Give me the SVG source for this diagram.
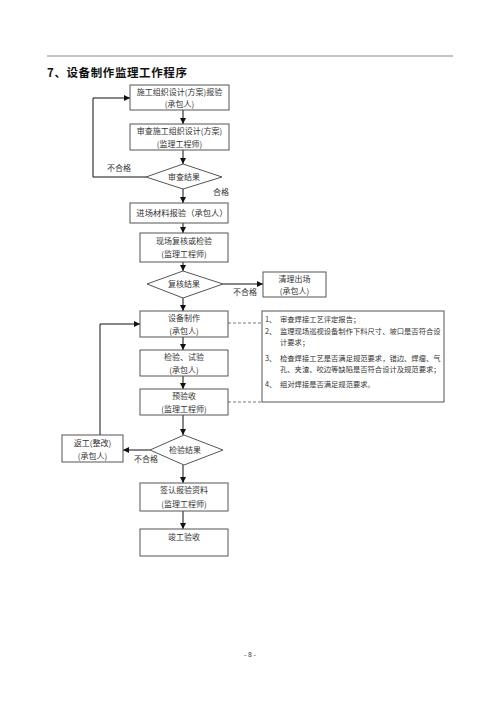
<svg xmlns="http://www.w3.org/2000/svg" width="500" height="707" viewBox="0 0 500 707">
<defs>
<marker id="ah" viewBox="0 0 10 10" refX="10" refY="5" markerWidth="6" markerHeight="6" orient="auto" markerUnits="userSpaceOnUse">
<path d="M0,0 L10,5 L0,10 z" fill="#111"/>
</marker>
</defs>
<style>
text{font-family:"Noto Sans CJK SC","Noto Sans CJK JP",serif;fill:#333;}
.t{font-size:8px;text-anchor:middle;}
.n{font-size:7.3px;}
.lbl{font-size:8px;}
.box{fill:#fff;stroke:#555;stroke-width:1;}
.dia{fill:#fff;stroke:#555;stroke-width:1;}
.ln{fill:none;stroke:#111;stroke-width:1;}
.dash{fill:none;stroke:#555;stroke-width:0.8;stroke-dasharray:3,2;}
</style>
<rect width="500" height="707" fill="#fff"/>
<line x1="47" y1="56" x2="453" y2="56" stroke="#888" stroke-width="1"/>
<text x="47" y="77" style="font-size:11.5px;font-weight:bold;fill:#111;letter-spacing:0.6px">7、设备制作监理工作程序</text>

<g id="connectors">
<line class="ln" x1="183" y1="110" x2="183" y2="124" marker-end="url(#ah)"/>
<line class="ln" x1="183" y1="150" x2="183" y2="164" marker-end="url(#ah)"/>
<polyline class="ln" points="146,177 93,177 93,98 130,98" marker-end="url(#ah)"/>
<line class="ln" x1="183" y1="189" x2="183" y2="203" marker-end="url(#ah)"/>
<line class="ln" x1="183" y1="223" x2="183" y2="233" marker-end="url(#ah)"/>
<line class="ln" x1="183" y1="262" x2="183" y2="271" marker-end="url(#ah)"/>
<line class="ln" x1="223" y1="284" x2="263" y2="284" marker-end="url(#ah)"/>
<line class="ln" x1="183" y1="298" x2="183" y2="311" marker-end="url(#ah)"/>
<line class="ln" x1="183" y1="337" x2="183" y2="350" marker-end="url(#ah)"/>
<line class="ln" x1="183" y1="376" x2="183" y2="389" marker-end="url(#ah)"/>
<line class="ln" x1="183" y1="415" x2="183" y2="435" marker-end="url(#ah)"/>
<line class="ln" x1="150" y1="450" x2="123" y2="450" marker-end="url(#ah)"/>
<polyline class="ln" points="100,435 100,324 140,324" marker-end="url(#ah)"/>
<line class="ln" x1="183" y1="465" x2="183" y2="483" marker-end="url(#ah)"/>
<line class="ln" x1="183" y1="511" x2="183" y2="529" marker-end="url(#ah)"/>
<line class="dash" x1="228" y1="323" x2="262" y2="323"/>
<line class="dash" x1="228" y1="402" x2="262" y2="402"/>
<text class="lbl" x="107" y="171">不合格</text>
<text class="lbl" x="213" y="195">合格</text>
<text class="lbl" x="233" y="295">不合格</text>
<text class="lbl" x="134" y="462">不合格</text>
</g>

<g id="n1"><rect class="box" x="130" y="85" width="99" height="25"/>
<text class="t" x="179.5" y="95">施工组织设计(方案)报验</text><text class="t" x="179.5" y="107">(承包人)</text></g>
<g id="n2"><rect class="box" x="130" y="124" width="99" height="26"/>
<text class="t" x="179.5" y="134">审查施工组织设计(方案)</text><text class="t" x="179.5" y="147">(监理工程师)</text></g>
<g id="d1"><polygon class="dia" points="146,177 183,164 222,177 183,189"/>
<text class="t" x="184" y="180">审查结果</text></g>
<g id="n3"><rect class="box" x="130" y="203" width="98" height="20"/>
<text class="t" x="182" y="216" style="font-size:8.3px">进场材料报验（承包人）</text></g>
<g id="n4"><rect class="box" x="140" y="233" width="88" height="29"/>
<text class="t" x="184" y="244">现场复核或检验</text><text class="t" x="184" y="257">(监理工程师)</text></g>
<g id="d2"><polygon class="dia" points="147,284 183,271 223,284 183,298"/>
<text class="t" x="184" y="287">复核结果</text></g>
<g id="n5"><rect class="box" x="263" y="272" width="63" height="25"/>
<text class="t" x="294.5" y="282">清理出场</text><text class="t" x="294.5" y="294">(承包人)</text></g>
<g id="n6"><rect class="box" x="140" y="311" width="88" height="26"/>
<text class="t" x="184" y="321">设备制作</text><text class="t" x="184" y="334">(承包人)</text></g>
<g id="n7"><rect class="box" x="140" y="350" width="88" height="26"/>
<text class="t" x="184" y="360">检验、试验</text><text class="t" x="184" y="373">(承包人)</text></g>
<g id="n8"><rect class="box" x="140" y="389" width="88" height="26"/>
<text class="t" x="184" y="399">预验收</text><text class="t" x="184" y="412">(监理工程师)</text></g>
<g id="note"><rect class="box" x="262" y="311" width="182" height="91"/>
<text class="n" x="265" y="322">1、</text><text class="n" x="280" y="322">审查焊接工艺评定报告；</text>
<text class="n" x="265" y="334">2、</text><text class="n" x="280" y="334">监理现场巡视设备制作下料尺寸、坡口是否符合设</text>
<text class="n" x="280" y="345">计要求；</text>
<text class="n" x="265" y="361">3、</text><text class="n" x="280" y="361">检查焊接工艺是否满足规范要求，错边、焊瘤、气</text>
<text class="n" x="280" y="372">孔、夹渣、咬边等缺陷是否符合设计及规范要求；</text>
<text class="n" x="265" y="387">4、</text><text class="n" x="280" y="387">组对焊接是否满足规范要求。</text></g>
<g id="d3"><polygon class="dia" points="150,450 184,435 223,450 184,465"/>
<text class="t" x="185" y="453">检验结果</text></g>
<g id="n9"><rect class="box" x="62" y="435" width="61" height="27"/>
<text class="t" x="92.5" y="446">返工(整改)</text><text class="t" x="92.5" y="459">(承包人)</text></g>
<g id="n10"><rect class="box" x="140" y="483" width="88" height="28"/>
<text class="t" x="184" y="493">签认报验资料</text><text class="t" x="184" y="507">(监理工程师)</text></g>
<g id="n11"><rect class="box" x="140" y="529" width="88" height="27"/>
<text class="t" x="184" y="540">竣工验收</text></g>
<text x="250" y="657" style="font-size:7px;text-anchor:middle">- 8 -</text>
</svg>
